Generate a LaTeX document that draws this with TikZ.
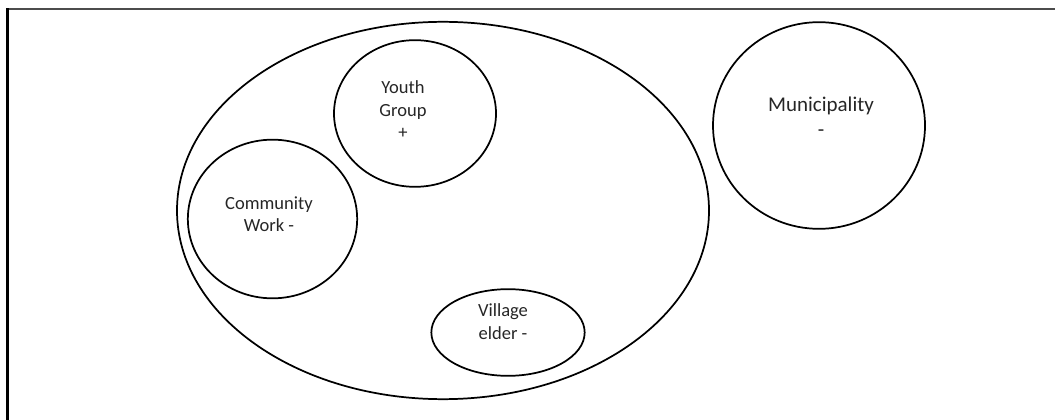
\documentclass[tikz,border=0pt]{standalone}
\usepackage{fontspec}
\setmainfont{Carlito}
\usetikzlibrary{shapes.geometric}
\tikzset{
    blob/.style={draw, line width=1.3pt, ellipse, inner sep=0pt},
    tag/.style={align=center, text=black!85, font=\fontsize{13.9}{16.9}\selectfont},
}
\begin{document}
\begin{tikzpicture}[x=0.75pt,y=-0.75pt]
    \useasboundingbox (0,0) rectangle (1055,420);
    \draw[line width=1.8pt,gray!60!black] (8,9) -- (1055,9);
    \draw[line width=2pt] (7.5,8.5) -- (7.5,420);

    \node[blob, minimum width=399pt, minimum height=283pt] (group) at (443,210.5) {};
    \node[blob, minimum width=121.5pt, minimum height=110pt] (youth) at (415,113.5) {};
    \node[blob, minimum width=127pt, minimum height=119pt] (work) at (272.5,219) {};
    \node[blob, minimum width=115pt, minimum height=65pt] (elder) at (508,332.5) {};
    \node[blob, minimum width=159pt, minimum height=155pt] (town) at (819,125.5) {};

    \node[tag] (youthtxt) at (403,110) {Youth\\Group\\+};
    \node[tag] (worktxt) at (269,214) {Community\\Work -};
    \node[tag] (eldertxt) at (503,321.5) {Village\\elder -};
    \node[tag, font=\fontsize{15.75}{18.75}\selectfont] (towntxt) at (821,117) {Municipality\\-};
\end{tikzpicture}
\end{document}
